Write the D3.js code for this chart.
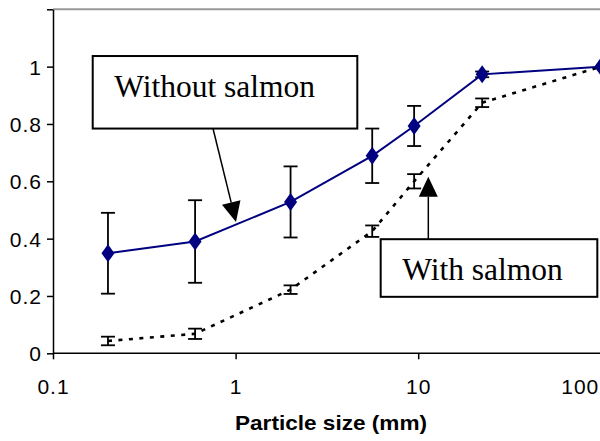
<!DOCTYPE html>
<meta charset="utf-8">
<style>
    body {
        margin: 0;
        background: #fff;
    }
    text {
        fill: #000;
    }
    .axis text {
        font: 21px "Liberation Sans", Arial, sans-serif;
        letter-spacing: 1px;
    }
    .axis path, .axis line {
        stroke: #000;
        stroke-width: 1.5;
    }
    .title {
        font: bold 21px "Liberation Sans", Arial, sans-serif;
    }
    .note text {
        font: 31.5px "Liberation Serif", "Times New Roman", serif;
    }
    .note rect {
        fill: #fff;
        stroke: #000;
        stroke-width: 2;
    }
    .note line {
        stroke: #000;
        stroke-width: 1.5;
    }
    .err {
        stroke: #000;
        stroke-width: 1.8;
    }
    .without {
        fill: none;
        stroke: #000080;
        stroke-width: 2;
    }
    .withs {
        fill: none;
        stroke: #000;
        stroke-width: 2.6;
        stroke-dasharray: 4, 6.5;
    }
</style>
<body>
<script src="https://cdn.jsdelivr.net/npm/d3@7"></script>
<script>

    // particle sizes (mm)
    var sizes = [0.2, 0.6, 2, 5.6, 9.5, 22.4, 100];
    // cumulative fraction, without salmon
    var without = [0.349, 0.39, 0.528, 0.689, 0.793, 0.973, 1.0];
    var withoutErr = [0.141, 0.144, 0.124, 0.095, 0.07, 0.01, 0];
    // cumulative fraction, with salmon
    var withSalmon = [0.043, 0.068, 0.222, 0.426, 0.6, 0.874, 1.0];
    var withErr = [0.015, 0.018, 0.015, 0.02, 0.025, 0.015, 0];

    var xTicks = [0.1, 1, 10, 100];
    var xTickLabels = ["0.1", "1", "10", "100"];
    var yTicks = [0, 0.2, 0.4, 0.6, 0.8, 1, 1.2];
    var yTickLabels = ["0", "0.2", "0.4", "0.6", "0.8", "1", ""];

    var width = 600, height = 441;

    var x = d3.scaleLog()
            .domain([0.1, 100])
            .range([53, 600.8]);

    var y = d3.scaleLinear()
            .domain([0, 1.2])
            .range([353.3, 9.3]);

    var svg = d3.select("body").append("svg")
            .attr("width", width)
            .attr("height", height);

    // plot frame top line
    svg.append("line")
            .attr("x1", x(0.1)).attr("x2", width)
            .attr("y1", y(1.2)).attr("y2", y(1.2))
            .style("stroke", "#999")
            .style("stroke-width", 2);

    var xAxis = d3.axisBottom(x)
            .tickValues(xTicks)
            .tickFormat(function(d, i) { return xTickLabels[i]; })
            .tickSizeInner(6)
            .tickSizeOuter(0)
            .tickPadding(20);

    var yAxis = d3.axisLeft(y)
            .tickValues(yTicks)
            .tickFormat(function(d, i) { return yTickLabels[i]; })
            .tickSizeInner(6)
            .tickSizeOuter(0)
            .tickPadding(5);

    var gx = svg.append("g")
            .attr("class", "x axis")
            .attr("transform", "translate(0," + y(0) + ")")
            .call(xAxis);
    gx.select(".domain").attr("d", "M" + x(0.1) + ",0H" + width);
    gx.selectAll(".tick text").filter(function(d) { return d === 100; })
            .attr("text-anchor", "end")
            .attr("dx", -2);

    var gy = svg.append("g")
            .attr("class", "y axis")
            .attr("transform", "translate(" + x(0.1) + ",0)")
            .call(yAxis);
    gy.selectAll(".tick text").attr("dy", "0.36em");

    svg.append("text")
            .attr("class", "title")
            .attr("x", 331)
            .attr("y", 430)
            .attr("text-anchor", "middle")
            .attr("textLength", 192)
            .attr("lengthAdjust", "spacingAndGlyphs")
            .text("Particle size (mm)");

    var withData = sizes.map(function(s, i) { return {x: s, y: withSalmon[i], e: withErr[i]}; });
    var withoutData = sizes.map(function(s, i) { return {x: s, y: without[i], e: withoutErr[i]}; });

    var line = d3.line()
            .x(function(d) { return x(d.x); })
            .y(function(d) { return y(d.y); });

    // with salmon: dotted line
    svg.append("path")
            .datum(withData)
            .attr("class", "withs")
            .attr("d", line);

    function errorBars(data) {
        var g = svg.append("g");
        data.filter(function(d) { return d.e > 0; }).forEach(function(d) {
            var cx = x(d.x), y0 = y(d.y - d.e), y1 = y(d.y + d.e);
            g.append("line").attr("class", "err")
                    .attr("x1", cx).attr("x2", cx).attr("y1", y0).attr("y2", y1);
            g.append("line").attr("class", "err")
                    .attr("x1", cx - 7).attr("x2", cx + 7).attr("y1", y0).attr("y2", y0);
            g.append("line").attr("class", "err")
                    .attr("x1", cx - 7).attr("x2", cx + 7).attr("y1", y1).attr("y2", y1);
        });
    }

    errorBars(withData);
    errorBars(withoutData);

    svg.append("path")
            .datum(withoutData)
            .attr("class", "without")
            .attr("d", line);

    svg.append("g").selectAll("path")
            .data(withoutData)
            .enter().append("path")
            .attr("transform", function(d) { return "translate(" + x(d.x) + "," + y(d.y) + ")"; })
            .attr("d", "M0,-9L6.5,0L0,9L-6.5,0Z")
            .style("fill", "#000080");

    // annotations (anchored in data units)
    var notes = [
        {text: "Without salmon", x0: 0.165, x1: 4.64, yTop: 1.037, yBot: 0.784,
         from: [0.752, 0.784], to: [1.005, 0.458]},
        {text: "With salmon", x0: 6.23, x1: 95.7, yTop: 0.398, yBot: 0.197,
         from: [11.36, 0.398], to: [11.36, 0.616]}
    ];

    notes.forEach(function(n) {
        var g = svg.append("g").attr("class", "note");
        var fx = x(n.from[0]), fy = y(n.from[1]),
            tx = x(n.to[0]), ty = y(n.to[1]);
        var ang = Math.atan2(ty - fy, tx - fx),
            len = 20, half = 9.5;
        var bx = tx - len * Math.cos(ang), by = ty - len * Math.sin(ang);
        g.append("line")
                .attr("x1", fx).attr("y1", fy)
                .attr("x2", bx).attr("y2", by);
        g.append("path")
                .attr("d", "M" + tx + "," + ty +
                        "L" + (bx + half * Math.sin(ang)) + "," + (by - half * Math.cos(ang)) +
                        "L" + (bx - half * Math.sin(ang)) + "," + (by + half * Math.cos(ang)) + "Z")
                .style("fill", "#000");
        var rx = x(n.x0), ry = y(n.yTop), rw = x(n.x1) - rx, rh = y(n.yBot) - ry;
        g.append("rect")
                .attr("x", rx).attr("y", ry)
                .attr("width", rw).attr("height", rh);
        g.append("text")
                .attr("x", rx + 21.5)
                .attr("y", ry + 40.5)
                .text(n.text);
    });

</script>
